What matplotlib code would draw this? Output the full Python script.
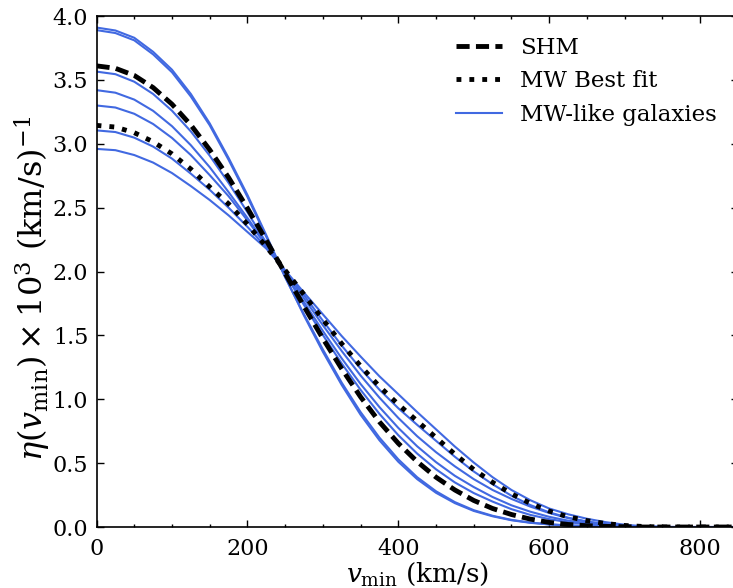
import numpy as np
import matplotlib
matplotlib.use("Agg")
import matplotlib.pyplot as plt

plt.rcParams['font.family'] = ['DejaVu Serif']
plt.rcParams['mathtext.fontset'] = 'dejavuserif'

v_min = [0, 25, 50, 75, 100, 125, 150, 175, 200, 225, 250, 275, 300, 325, 350,
         375, 400, 425, 450, 475, 500, 525, 550, 575, 600, 625, 650, 675, 700,
         725, 750, 775, 800, 825, 850]

eta_shm = [3.610, 3.591, 3.535, 3.440, 3.310, 3.147, 2.953, 2.736, 2.496, 2.244,
           1.986, 1.727, 1.476, 1.239, 1.019, 0.823, 0.655, 0.512, 0.390, 0.290,
           0.208, 0.145, 0.098, 0.062, 0.036, 0.020, 0.010, 0.005, 0.002, 0.0,
           0.0, 0.0, 0.0, 0.0, 0.0]

eta_mw_best = [3.144, 3.131, 3.087, 3.016, 2.921, 2.802, 2.662, 2.530, 2.370, 2.195,
               2.010, 1.820, 1.625, 1.435, 1.260, 1.100, 0.960, 0.830, 0.700, 0.570,
               0.450, 0.350, 0.260, 0.185, 0.125, 0.080, 0.050, 0.027, 0.012, 0.004,
               0.0, 0.0, 0.0, 0.0, 0.0]

eta_mw_like = [
    [3.910, 3.887, 3.830, 3.720, 3.580, 3.390, 3.160, 2.890, 2.600, 2.285,
     1.960, 1.655, 1.372, 1.112, 0.879, 0.679, 0.511, 0.375, 0.268, 0.187,
     0.126, 0.084, 0.053, 0.033, 0.020, 0.012, 0.007, 0.004, 0.002, 0.0,
     0.0, 0.0, 0.0, 0.0, 0.0],
    [3.890, 3.867, 3.810, 3.700, 3.560, 3.370, 3.145, 2.875, 2.585, 2.272,
     1.955, 1.665, 1.390, 1.130, 0.900, 0.700, 0.530, 0.390, 0.280, 0.195,
     0.132, 0.088, 0.056, 0.035, 0.021, 0.013, 0.008, 0.004, 0.002, 0.0,
     0.0, 0.0, 0.0, 0.0, 0.0],
    [3.565, 3.545, 3.486, 3.390, 3.259, 3.097, 2.907, 2.694, 2.465, 2.225,
     1.982, 1.738, 1.503, 1.280, 1.074, 0.886, 0.719, 0.575, 0.452, 0.349,
     0.266, 0.199, 0.140, 0.095, 0.062, 0.038, 0.022, 0.011, 0.004, 0.001,
     0.0, 0.0, 0.0, 0.0, 0.0],
    [3.420, 3.400, 3.346, 3.258, 3.138, 2.989, 2.817, 2.622, 2.420, 2.210,
     1.985, 1.760, 1.535, 1.320, 1.120, 0.939, 0.776, 0.632, 0.508, 0.401,
     0.313, 0.235, 0.170, 0.120, 0.080, 0.050, 0.030, 0.016, 0.007, 0.002,
     0.0, 0.0, 0.0, 0.0, 0.0],
    [3.300, 3.284, 3.235, 3.155, 3.046, 2.912, 2.755, 2.590, 2.400, 2.205,
     2.000, 1.790, 1.580, 1.378, 1.186, 1.013, 0.854, 0.711, 0.586, 0.475,
     0.375, 0.290, 0.220, 0.160, 0.110, 0.070, 0.042, 0.022, 0.009, 0.003,
     0.0, 0.0, 0.0, 0.0, 0.0],
    [3.105, 3.092, 3.048, 2.978, 2.884, 2.766, 2.640, 2.500, 2.350, 2.190,
     2.005, 1.815, 1.615, 1.420, 1.240, 1.075, 0.930, 0.800, 0.675, 0.550,
     0.435, 0.335, 0.245, 0.172, 0.115, 0.073, 0.043, 0.022, 0.009, 0.003,
     0.0, 0.0, 0.0, 0.0, 0.0],
    [2.960, 2.950, 2.912, 2.853, 2.771, 2.669, 2.560, 2.440, 2.310, 2.180,
     2.010, 1.835, 1.665, 1.495, 1.335, 1.180, 1.040, 0.900, 0.765, 0.630,
     0.505, 0.390, 0.290, 0.210, 0.145, 0.100, 0.065, 0.038, 0.018, 0.006,
     0.001, 0.0, 0.0, 0.0, 0.0],
]

x_ticks = [0, 200, 400, 600, 800]
y_ticks = [0.0, 0.5, 1.0, 1.5, 2.0, 2.5, 3.0, 3.5, 4.0]

fig = plt.figure(figsize=(7.33, 5.88), dpi=100)
ax = fig.add_axes([0.1317, 0.1037, 0.8748, 0.869])

for i, curve in enumerate(eta_mw_like):
    ax.plot(v_min, curve, color='#4169E1', lw=1.5,
            label='MW-like galaxies' if i == 0 else None, zorder=2)

l_shm, = ax.plot(v_min, eta_shm, color='black', lw=3.5, linestyle='--',
                 label='SHM', zorder=3)
l_shm.set_dashes((2.7, 1.3))
ax.plot(v_min, eta_mw_best, color='black', lw=3.5, linestyle=':',
        label='MW Best fit', zorder=3)

ax.set_xlim(0, 850)
ax.set_ylim(0, 4.0)
ax.set_xticks(x_ticks)
ax.set_yticks(y_ticks)
ax.set_xticks(np.arange(0, 851, 50), minor=True)
ax.tick_params(which='both', direction='in', top=True, right=True,
               labelsize=16, width=1.0)
ax.tick_params(which='major', length=5)
ax.tick_params(which='minor', length=2.5)
ax.tick_params(axis='x', which='major', pad=8)
ax.tick_params(axis='y', which='major', pad=6)
for s in ax.spines.values():
    s.set_linewidth(1.2)

ax.set_xlabel(r'$v_{\rm min}\ ({\rm km/s})$', fontsize=19, labelpad=0)
ax.set_ylabel(r'$\eta(v_{\rm min})\times 10^3\ ({\rm km/s})^{-1}$', fontsize=23,
              labelpad=0)
ax.yaxis.label.set_y(0.467)

handles, labels = ax.get_legend_handles_labels()
order = [labels.index('SHM'), labels.index('MW Best fit'), labels.index('MW-like galaxies')]
ax.legend([handles[i] for i in order], [labels[i] for i in order],
          loc='upper right', frameon=False, fontsize=16.5)

fig.savefig('out.png', dpi=100)
